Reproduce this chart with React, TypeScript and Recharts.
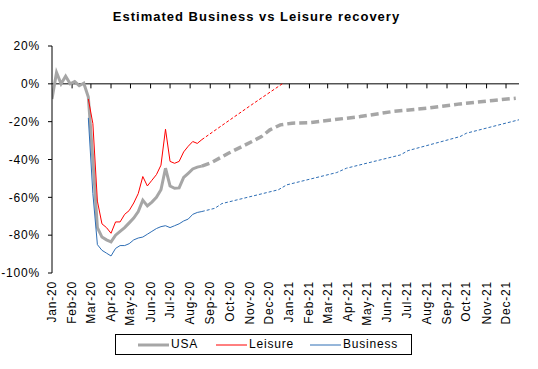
import React from "react";
import { LineChart, Line, XAxis, YAxis, ReferenceLine } from "recharts";

const FONT = "'Liberation Sans', Arial, sans-serif";
const SPACING = 0.8;

// month starts, in days since 1 Jan 2020
const monthDays = [0, 31, 60, 91, 121, 152, 182, 213, 244, 274, 305, 335, 366, 397, 425, 456, 486, 517, 547, 578, 609, 639, 670, 700];
const monthLabels = [
  "Jan-20", "Feb-20", "Mar-20", "Apr-20", "May-20", "Jun-20", "Jul-20", "Aug-20", "Sep-20", "Oct-20", "Nov-20", "Dec-20",
  "Jan-21", "Feb-21", "Mar-21", "Apr-21", "May-21", "Jun-21", "Jul-21", "Aug-21", "Sep-21", "Oct-21", "Nov-21", "Dec-21",
];
const yTicks = [-100, -80, -60, -40, -20, 0, 20];

// weekly actuals (% vs 2019), week 0 = 1 Jan 2020
const usa = [-8, 6, 0, 4, 0, 1.2, -1, 0.3, -7, -40, -76, -81, -82.5, -83.5, -80, -78, -76, -73.5, -71, -67.5, -61.5, -64.5, -62.5, -60, -56, -44.6, -54, -55.2, -55, -49.5, -47.3, -45, -44, -43.5];
const leisure = [null, null, null, null, null, null, null, null, -8, -21, -62, -74, -76, -79, -73, -73, -69, -67, -63, -58, -49, -54, -51, -48, -43, -24, -41, -42, -41, -36, -33, -30.5, -31.5, -29.5];
const business = [null, null, null, null, null, null, null, null, -18, -58, -85, -88, -89.5, -91, -87, -85.5, -85.5, -84.5, -82.5, -81.5, -81, -79.5, -78, -76.5, -75.5, -75, -76, -75, -74, -72.5, -71.5, -69, -68, -67.5];

// projections
const usaFcDays = [231, 246, 272, 298, 323, 336, 352, 370, 398, 434, 475, 526, 578, 629, 680, 715];
const usaFc = [-43.5, -41.6, -36.7, -32.3, -27.9, -24.3, -21.7, -20.8, -20.5, -19, -17.3, -14.6, -12.9, -10.6, -8.8, -7.6];
const leisureFcDays = [231, 267, 308, 355];
const leisureFc = [-29.5, -20.8, -11, 0];
const businessFcDays = [231, 251, 262, 349, 362, 439, 454, 537, 549, 629, 639, 720];
const businessFc = [-67.5, -65.8, -63.3, -56, -53.4, -46.9, -44.6, -37.6, -35.3, -27.9, -26.1, -19];

const GRAY = "#a6a6a6";
const RED = "#ff0000";
const BLUE = "#2e6eb5";

const weekly = (vals: (number | null)[]) => vals.map((v, i) => ({ d: i * 7, v }));
const pairs = (days: number[], vals: number[]) => days.map((d, i) => ({ d, v: vals[i] }));

const MonthTick = (props: any) => {
  const { x, y, payload } = props;
  const i = monthDays.indexOf(payload.value);
  return (
    <text
      x={x}
      y={y}
      transform={`rotate(-90 ${x} ${y})`}
      textAnchor="end"
      dominantBaseline="central"
      fontSize={12}
      fill="#000"
      fontFamily={FONT}
      letterSpacing={SPACING}
    >
      {monthLabels[i]}
    </text>
  );
};

const legendItems = [
  { label: "USA", color: GRAY, width: 3, x: 22 },
  { label: "Leisure", color: RED, width: 1, x: 100 },
  { label: "Business", color: BLUE, width: 1, x: 194 },
];

export default function App() {
  return (
    <div style={{ position: "absolute", left: 0, top: 0, width: 538, height: 369, background: "#fff", fontFamily: FONT }}>
      <div
        style={{
          position: "absolute",
          top: 9,
          left: 0,
          width: 513,
          textAlign: "center",
          fontSize: 13,
          fontWeight: "bold",
          lineHeight: "16px",
          letterSpacing: 1,
        }}
      >
        Estimated Business vs Leisure recovery
      </div>
      <LineChart width={538} height={369} margin={{ top: 46, right: 19, left: 8, bottom: 46 }}>
        <XAxis
          type="number"
          dataKey="d"
          domain={[0, 720]}
          ticks={monthDays}
          interval={0}
          allowDataOverflow
          axisLine={false}
          tickLine={false}
          height={50}
          tick={<MonthTick />}
        />
        <YAxis
          type="number"
          domain={[-100, 20]}
          ticks={yTicks}
          interval={0}
          width={44}
          tickSize={4}
          tickMargin={8}
          tickFormatter={(v) => `${v}%`}
          axisLine={{ stroke: "#000" }}
          tickLine={{ stroke: "#000" }}
          tick={{ fill: "#000", fontSize: 12, fontFamily: FONT, letterSpacing: SPACING }}
        />
        <ReferenceLine y={0} stroke="#000" strokeWidth={1} />
        {monthDays.slice(1).map((d) => (
          <ReferenceLine key={d} segment={[{ x: d, y: 0 }, { x: d, y: -2.4 }]} stroke="#000" ifOverflow="visible" />
        ))}
        <Line data={weekly(usa)} dataKey="v" type="linear" stroke={GRAY} strokeWidth={3} dot={false} isAnimationActive={false} />
        <Line data={pairs(usaFcDays, usaFc)} dataKey="v" type="linear" stroke={GRAY} strokeWidth={3.5} strokeDasharray="8 4" dot={false} isAnimationActive={false} />
        <Line data={weekly(leisure)} dataKey="v" type="linear" stroke={RED} strokeWidth={1} dot={false} isAnimationActive={false} />
        <Line data={pairs(leisureFcDays, leisureFc)} dataKey="v" type="linear" stroke={RED} strokeWidth={1} strokeDasharray="3 2" dot={false} isAnimationActive={false} />
        <Line data={weekly(business)} dataKey="v" type="linear" stroke={BLUE} strokeWidth={1} dot={false} isAnimationActive={false} />
        <Line data={pairs(businessFcDays, businessFc)} dataKey="v" type="linear" stroke={BLUE} strokeWidth={1} strokeDasharray="3 2" dot={false} isAnimationActive={false} />
      </LineChart>
      <div
        style={{
          position: "absolute",
          left: 115,
          top: 334,
          width: 297,
          height: 21,
          boxSizing: "border-box",
          border: "1px solid #000",
          fontSize: 12,
          letterSpacing: SPACING,
        }}
      >
        {legendItems.map((it) => (
          <React.Fragment key={it.label}>
            <svg width={32} height={6} style={{ position: "absolute", left: it.x, top: 7 }}>
              <line x1={0} y1={3} x2={31} y2={3} stroke={it.color} strokeWidth={it.width} />
            </svg>
            <span style={{ position: "absolute", left: it.x + 33, top: 2, lineHeight: "15px" }}>{it.label}</span>
          </React.Fragment>
        ))}
      </div>
    </div>
  );
}
